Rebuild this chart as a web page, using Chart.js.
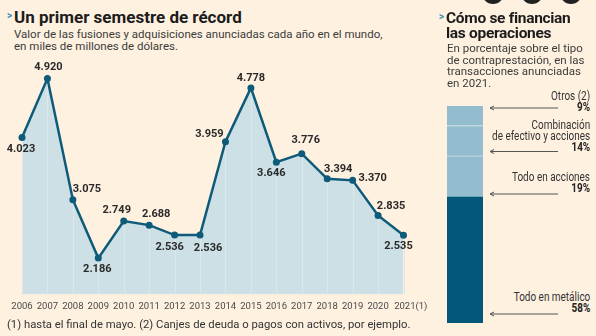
<!DOCTYPE html>
<html>
<head>
<meta charset="utf-8">
<script src="https://cdn.jsdelivr.net/npm/chart.js@4/dist/chart.umd.min.js"></script>
<style>
  html, body { margin: 0; padding: 0; }
  body { width: 596px; height: 336px; background: #fef1e0; position: relative; overflow: hidden; font-family: Roboto, sans-serif; color: #222; }
  .abs { position: absolute; }
  .title { font-weight: bold; font-size: 17px; line-height: 15px; color: #1c1c1c; }
  .title.r { font-size: 15.5px; letter-spacing: -0.3px; line-height: 15px; }
  .chev { color: #3b8fb5; font-size: 10px; font-weight: bold; }
  .sub { font-size: 11.5px; line-height: 11.5px; color: #3c3c3c; }
  .lab { font-size: 12px; line-height: 11px; color: #333; text-align: right; right: 6px; white-space: nowrap;
         transform: scaleX(0.83); transform-origin: right top; }
  .lab b { color: #222; }
  .dot { background: #222; border-radius: 50%; width: 22px; height: 22px; top: -18px; }
</style>
</head>
<body>
<div class="abs dot" style="left:482px"></div>
<div class="abs dot" style="left:521px"></div>
<div class="abs dot" style="left:560px"></div>

<div class="abs chev" style="left:7px;top:10px">&gt;</div>
<div class="abs title" style="left:14px;top:10px">Un primer semestre de récord</div>
<div class="abs sub" style="left:14px;top:29px">Valor de las fusiones y adquisiciones anunciadas cada año en el mundo,<br>en miles de millones de dólares.</div>

<canvas id="mna" class="abs" style="left:0;top:0"></canvas>

<div class="abs sub" style="left:7px;top:319px;font-size:11.3px;color:#333">(1) hasta el final de mayo. (2) Canjes de deuda o pagos con activos, por ejemplo.</div>

<div class="abs chev" style="left:439px;top:11px">&gt;</div>
<div class="abs title r" style="left:446px;top:11px">Cómo se financian<br>las operaciones</div>
<div class="abs sub" style="left:447px;top:43px">En porcentaje sobre el tipo<br>de contraprestación, en las<br>transacciones anunciadas<br>en 2021.</div>

<canvas id="pay" class="abs" style="left:447px;top:106px"></canvas>

<div class="abs lab" style="top:91px">Otros (2)<br><b>9%</b></div>
<div class="abs lab" style="top:120px">Combinación<br>de efectivo y acciones<br><b>14%</b></div>
<div class="abs lab" style="top:172px">Todo en acciones<br><b>19%</b></div>
<div class="abs lab" style="top:292px">Todo en metálico<br><b>58%</b></div>

<svg class="abs" style="left:480px;top:0" width="90" height="336">
  <g stroke="#555" stroke-width="1" fill="none">
    <path d="M10 108 H78 M10 108 l4 -2 M10 108 l4 2"/>
    <path d="M10 151.5 H78 M10 151.5 l4 -2 M10 151.5 l4 2"/>
    <path d="M10 194 H78 M10 194 l4 -2 M10 194 l4 2"/>
    <path d="M10 314 H78 M10 314 l4 -2 M10 314 l4 2"/>
  </g>
</svg>

<script>
// Fusiones y adquisiciones anunciadas, miles de millones de dólares
const years = ['2006','2007','2008','2009','2010','2011','2012','2013','2014','2015','2016','2017','2018','2019','2020','2021(1)'];
const dealValues = [4023, 4920, 3075, 2186, 2749, 2688, 2536, 2536, 3959, 4778, 3646, 3776, 3394, 3370, 2835, 2535];

// Cómo se financian (2021), % — de abajo hacia arriba
const payTypes = ['Todo en metálico', 'Todo en acciones', 'Combinación de efectivo y acciones', 'Otros (2)'];
const payShares = [58, 19, 14, 9];

// dónde va cada etiqueta respecto a su punto (dx, dy)
const labelOffsets = [
  [-1, 12], [1, -11], [14, -10], [-1, 11], [-7, -11], [7, -11], [-5, 12], [8, 13],
  [-16, -7], [0, -10], [-5, 11], [4, -13], [11, -10], [20, -2], [13, -9], [-5, 11]
];

const LINE = '#0d5a79';
const FILL = '#cde0e6';

const fmt = v => v.toLocaleString('de-DE');

const gridInFill = {
  id: 'gridInFill',
  beforeDatasetDraw(chart, args) {
    if (args.index !== 0) return;
    const ctx = chart.ctx;
    const bottom = chart.chartArea.bottom;
    ctx.save();
    ctx.strokeStyle = '#dde8ea';
    ctx.lineWidth = 1;
    chart.getDatasetMeta(0).data.forEach(pt => {
      const x = Math.round(pt.x) + 0.5;
      ctx.beginPath();
      ctx.moveTo(x, pt.y);
      ctx.lineTo(x, bottom);
      ctx.stroke();
    });
    ctx.restore();
  }
};

const valueLabels = {
  id: 'valueLabels',
  afterDatasetsDraw(chart) {
    const ctx = chart.ctx;
    ctx.save();
    ctx.font = 'bold 11px Roboto, sans-serif';
    ctx.fillStyle = '#2a2a2a';
    ctx.textAlign = 'center';
    ctx.textBaseline = 'middle';
    chart.getDatasetMeta(0).data.forEach((pt, i) => {
      const o = labelOffsets[i];
      ctx.fillText(fmt(dealValues[i]), pt.x + o[0], pt.y + o[1]);
    });
    ctx.restore();
  }
};

const c1 = document.getElementById('mna');
c1.width = 460; c1.height = 336;
new Chart(c1, {
  type: 'line',
  data: {
    labels: years,
    datasets: [
      {
        data: dealValues, order: 1, borderColor: LINE, borderWidth: 2.5,
        pointRadius: 3.5, pointBackgroundColor: LINE, pointBorderWidth: 0,
        tension: 0, fill: false, clip: false
      },
      {
        data: dealValues, order: 2, borderWidth: 0, pointRadius: 0,
        backgroundColor: FILL, fill: 'start', tension: 0
      }
    ]
  },
  options: {
    responsive: false, animation: false,
    layout: { padding: { left: 22, right: 56.5, top: 61.5, bottom: 18 } },
    plugins: { legend: { display: false }, tooltip: { enabled: false } },
    scales: {
      x: {
        offset: false,
        grid: { display: false, drawTicks: false }, border: { display: false },
        ticks: {
          autoSkip: false, maxRotation: 0, padding: 6, color: '#4a4a4a', font: { family: 'Roboto', size: 9.5 },
          // la nota "(1)" cuelga a la derecha del año
          callback: (v, i) => i === years.length - 1 ? '\u2003\u2002' + years[i] : years[i]
        }
      },
      y: { display: false, min: 1630, max: 5180 }
    }
  },
  plugins: [gridInFill, valueLabels]
});

const c2 = document.getElementById('pay');
c2.width = 36; c2.height = 217;
const payColors = ['#03587a', '#93bccf', '#93bccf', '#93bccf'];
const payBorders = [0, 1, 1, 0];
new Chart(c2, {
  type: 'bar',
  data: {
    labels: ['2021'],
    datasets: payShares.map((v, i) => ({
      label: payTypes[i], data: [v], backgroundColor: payColors[i],
      borderColor: '#d3e4ea', borderWidth: { top: payBorders[i], bottom: 0, left: 0, right: 0 },
      borderSkipped: false, barPercentage: 1, categoryPercentage: 1
    }))
  },
  options: {
    responsive: false, animation: false,
    layout: { padding: 0 },
    plugins: { legend: { display: false }, tooltip: { enabled: false } },
    scales: {
      x: { display: false, stacked: true },
      y: { display: false, stacked: true, min: 0, max: 100 }
    }
  }
});
</script>
</body>
</html>
